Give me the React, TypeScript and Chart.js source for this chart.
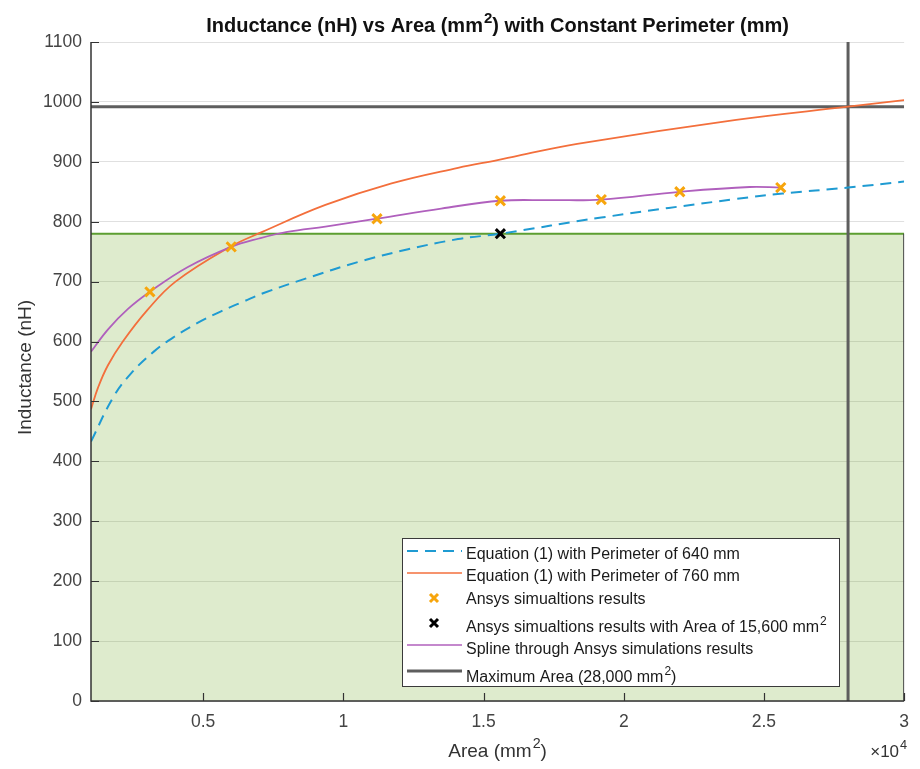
import React, { useEffect, useRef } from 'react';
import { Chart, registerables } from 'chart.js';

Chart.register(...registerables);

// ---------------- data ----------------
const xMin = 1000;
const xMax = 30000;
const yMin = 0;
const yMax = 1100;
const yStep = 100;
const xTickValues = [5000, 10000, 15000, 20000, 25000, 30000];
const xTickLabels = ['0.5', '1', '1.5', '2', '2.5', '3'];

const eq640Area = [1000, 1780, 2430, 3260, 3970, 4800, 5620, 6450, 7160, 8650, 10540, 12310, 14090, 15600, 19200, 24010, 25670, 28000, 30000];
const eq640L = [433, 506, 547, 584, 608, 631, 650, 667, 681, 705, 733, 754, 771, 780, 807, 838, 847, 857, 867];

const eq760Area = [1000, 1250, 1600, 2135, 3000, 4015, 5960, 7110, 9360, 11720, 14090, 15500, 16210, 18340, 24010, 28000, 30000];
const eq760L = [487, 523, 560, 600, 652, 700, 758, 783, 828, 864, 890, 903, 910, 930, 970, 992, 1003];

const splineArea = [1000, 1600, 2310, 3100, 4440, 6000, 6990, 8000, 9360, 11200, 13490, 15600, 17400, 19200, 22000, 24490, 25600];
const splineL = [583, 620, 654, 683, 724, 758, 772, 783, 792, 805, 822, 835, 836, 837, 850, 858, 857];

const ansysArea = [3100, 6000, 11200, 15600, 19200, 22000, 25600];
const ansysL = [683, 758, 805, 835, 837, 850, 857];

const chosenArea = [15600];
const chosenL = [780];

const maxArea = 28000;
const maxAreaL = 992;
const targetL = 780;

const titleText = 'Inductance (nH) vs Area (mm^2) with Constant Perimeter (mm)';
const xTitleText = 'Area (mm^2)';
const yTitleText = 'Inductance (nH)';
const xExponentText = '\u00d710^4';
const legendLabels = [
  'Equation (1) with Perimeter of 640 mm',
  'Equation (1) with Perimeter of 760 mm',
  'Ansys simualtions results',
  'Ansys simualtions results with Area of 15,600 mm^2',
  'Spline through Ansys simulations results',
  'Maximum Area (28,000 mm^2)',
];

// ---------------- styles ----------------
const FONT = '"Liberation Sans", Arial, Helvetica, sans-serif';
const C_BLUE = '#1f9bd2';
const C_ORANGE = '#f36f3c';
const C_PURPLE = '#b060bd';
const C_MARK = '#f7a50c';
const C_GRAY = '#5e5e5e';
const C_GREEN = '#5c9e31';
const C_FILL = 'rgba(119,172,48,0.24)';

const zip = (xs: number[], ys: number[]) => xs.map((x, i) => ({ x, y: ys[i] }));

type Part = { t: string; sup: boolean };
function parseRich(s: string): Part[] {
  const parts: Part[] = [];
  let buf = '';
  for (let i = 0; i < s.length; i++) {
    if (s[i] === '^' && i + 1 < s.length) {
      if (buf) parts.push({ t: buf, sup: false });
      buf = '';
      parts.push({ t: s[i + 1], sup: true });
      i++;
    } else buf += s[i];
  }
  if (buf) parts.push({ t: buf, sup: false });
  return parts;
}

function richWidth(ctx: CanvasRenderingContext2D, parts: Part[], size: number, weight: string) {
  let w = 0;
  for (const p of parts) {
    ctx.font = `${weight} ${p.sup ? size * 0.75 : size}px ${FONT}`;
    w += ctx.measureText(p.t).width + (p.sup ? 1 : 0);
  }
  return w;
}

function drawRich(
  ctx: CanvasRenderingContext2D,
  s: string,
  x: number,
  baseline: number,
  size: number,
  weight: string,
  color: string,
  align: 'left' | 'center' | 'right'
) {
  const parts = parseRich(s);
  const w = richWidth(ctx, parts, size, weight);
  let cx = align === 'left' ? x : align === 'center' ? x - w / 2 : x - w;
  ctx.fillStyle = color;
  ctx.textAlign = 'left';
  ctx.textBaseline = 'alphabetic';
  for (const p of parts) {
    const sz = p.sup ? size * 0.75 : size;
    ctx.font = `${weight} ${sz}px ${FONT}`;
    const dx = p.sup ? 1 : 0;
    ctx.fillText(p.t, cx + dx, p.sup ? baseline - size * 0.45 : baseline);
    cx += ctx.measureText(p.t).width + dx;
  }
}

function drawCross(ctx: CanvasRenderingContext2D, x: number, y: number, r: number, color: string) {
  ctx.save();
  ctx.strokeStyle = color;
  ctx.lineWidth = 3;
  ctx.lineCap = 'butt';
  ctx.beginPath();
  ctx.moveTo(x - r, y - r);
  ctx.lineTo(x + r, y + r);
  ctx.moveTo(x + r, y - r);
  ctx.lineTo(x - r, y + r);
  ctx.stroke();
  ctx.restore();
}

const decorPlugin = {
  id: 'decor',
  afterDraw(chart: any) {
    const { ctx, chartArea, scales } = chart;
    const { left, right, top, bottom } = chartArea;
    const xs = scales.x;
    const ys = scales.y;
    ctx.save();

    // patch right edge
    const gy = ys.getPixelForValue(targetL);
    ctx.strokeStyle = '#4a4a4a';
    ctx.lineWidth = 1;
    ctx.beginPath();
    ctx.moveTo(right - 0.5, gy);
    ctx.lineTo(right - 0.5, bottom);
    ctx.stroke();

    // axes
    ctx.strokeStyle = '#333333';
    ctx.lineWidth = 1.5;
    ctx.beginPath();
    ctx.moveTo(left, top);
    ctx.lineTo(left, bottom);
    ctx.lineTo(right, bottom);
    ctx.stroke();

    // inward ticks
    ctx.lineWidth = 1.2;
    ctx.beginPath();
    for (let v = yMin; v <= yMax; v += yStep) {
      const py = Math.round(ys.getPixelForValue(v)) + 0.5;
      ctx.moveTo(left, py);
      ctx.lineTo(left + 8, py);
    }
    for (const v of xTickValues) {
      const px = Math.round(xs.getPixelForValue(v)) + 0.5;
      ctx.moveTo(px, bottom);
      ctx.lineTo(px, bottom - 8);
    }
    ctx.stroke();

    // titles
    const midX = (left + right) / 2;
    drawRich(ctx, titleText, midX, 32, 20, 'bold', '#111111', 'center');
    drawRich(ctx, xTitleText, midX, 757, 19, 'normal', '#333333', 'center');
    drawRich(ctx, xExponentText, right + 3, 757, 17, 'normal', '#333333', 'right');

    ctx.save();
    ctx.translate(31, (top + bottom) / 2 - 4);
    ctx.rotate(-Math.PI / 2);
    drawRich(ctx, yTitleText, 0, 0, 19, 'normal', '#333333', 'center');
    ctx.restore();

    // legend
    const lx = 402.5, ly = 538.5, lw = 437, lh = 148;
    ctx.fillStyle = '#ffffff';
    ctx.fillRect(lx, ly, lw, lh);
    ctx.strokeStyle = '#3a3a3a';
    ctx.lineWidth = 1;
    ctx.strokeRect(lx, ly, lw, lh);

    const baselines = [559, 581, 604, 632, 654, 682];
    const symY = [551, 573, 598, 623, 645, 671];
    const x0 = 407, x1 = 462, xm = 434, tx = 466;

    ctx.strokeStyle = C_BLUE;
    ctx.lineWidth = 2;
    ctx.setLineDash([11, 7]);
    ctx.beginPath();
    ctx.moveTo(x0, symY[0]);
    ctx.lineTo(x1, symY[0]);
    ctx.stroke();
    ctx.setLineDash([]);
    ctx.strokeStyle = C_ORANGE;
    ctx.lineWidth = 1.5;
    ctx.beginPath();
    ctx.moveTo(x0, symY[1]);
    ctx.lineTo(x1, symY[1]);
    ctx.stroke();
    drawCross(ctx, xm, symY[2], 4, C_MARK);
    drawCross(ctx, xm, symY[3], 4, '#000000');
    ctx.strokeStyle = C_PURPLE;
    ctx.lineWidth = 1.5;
    ctx.beginPath();
    ctx.moveTo(x0, symY[4]);
    ctx.lineTo(x1, symY[4]);
    ctx.stroke();
    ctx.strokeStyle = C_GRAY;
    ctx.lineWidth = 3;
    ctx.beginPath();
    ctx.moveTo(x0, symY[5]);
    ctx.lineTo(x1, symY[5]);
    ctx.stroke();

    legendLabels.forEach((lab, i) => {
      drawRich(ctx, lab, tx, baselines[i], 16, 'normal', '#1a1a1a', 'left');
    });

    ctx.restore();
  },
};

export default function App() {
  const ref = useRef<HTMLCanvasElement | null>(null);

  useEffect(() => {
    if (!ref.current) return;
    const chart = new Chart(ref.current, {
      type: 'scatter',
      data: {
        datasets: [
          {
            label: legendLabels[2],
            data: zip(ansysArea, ansysL),
            showLine: false,
            pointStyle: 'crossRot',
            pointRadius: 6.5,
            pointBorderWidth: 3,
            borderColor: C_MARK,
            backgroundColor: C_MARK,
          },
          {
            label: legendLabels[3],
            data: zip(chosenArea, chosenL),
            showLine: false,
            pointStyle: 'crossRot',
            pointRadius: 6.5,
            pointBorderWidth: 3,
            borderColor: '#000000',
            backgroundColor: '#000000',
          },
          {
            label: legendLabels[4],
            data: zip(splineArea, splineL),
            showLine: true,
            pointRadius: 0,
            borderColor: C_PURPLE,
            borderWidth: 1.8,
            tension: 0.4,
          },
          {
            label: legendLabels[1],
            data: zip(eq760Area, eq760L),
            showLine: true,
            pointRadius: 0,
            borderColor: C_ORANGE,
            borderWidth: 1.8,
            tension: 0.4,
          },
          {
            label: legendLabels[0],
            data: zip(eq640Area, eq640L),
            showLine: true,
            pointRadius: 0,
            borderColor: C_BLUE,
            borderWidth: 2,
            borderDash: [11, 7],
            tension: 0.4,
          },
          {
            label: legendLabels[5],
            data: [
              { x: maxArea, y: yMin },
              { x: maxArea, y: yMax },
            ],
            showLine: true,
            pointRadius: 0,
            borderColor: C_GRAY,
            borderWidth: 3,
          },
          {
            label: 'max inductance',
            data: [
              { x: xMin, y: maxAreaL },
              { x: xMax, y: maxAreaL },
            ],
            showLine: true,
            pointRadius: 0,
            borderColor: C_GRAY,
            borderWidth: 3,
          },
          {
            label: 'target region',
            data: [
              { x: xMin, y: targetL },
              { x: xMax, y: targetL },
            ],
            showLine: true,
            pointRadius: 0,
            borderColor: C_GREEN,
            borderWidth: 2,
            backgroundColor: C_FILL,
            fill: 'origin',
          },
        ],
      },
      options: {
        responsive: false,
        animation: false,
        devicePixelRatio: 1,
        layout: { padding: { left: 0, right: 12, top: 42, bottom: 0 } },
        plugins: {
          legend: { display: false },
          title: { display: false },
          tooltip: { enabled: false },
        },
        scales: {
          x: {
            type: 'linear',
            min: xMin,
            max: xMax,
            afterBuildTicks: (scale: any) => {
              scale.ticks = xTickValues.map((v) => ({ value: v }));
            },
            afterFit: (scale: any) => {
              scale.height = 68;
            },
            ticks: {
              padding: 11,
              maxRotation: 0,
              autoSkip: false,
              color: '#444444',
              font: { family: FONT, size: 17.5 },
              callback: (v: any) => {
                const i = xTickValues.indexOf(Number(v));
                return i >= 0 ? xTickLabels[i] : '';
              },
            },
            grid: { display: false, drawTicks: false },
            border: { display: false },
          },
          y: {
            type: 'linear',
            min: yMin,
            max: yMax,
            afterFit: (scale: any) => {
              scale.width = 91;
            },
            ticks: {
              stepSize: yStep,
              padding: 9,
              color: '#444444',
              font: { family: FONT, size: 17.5 },
              callback: (v: any) => String(v),
            },
            grid: { color: 'rgba(38,38,38,0.14)', lineWidth: 1, drawTicks: false },
            border: { display: false },
          },
        },
      },
      plugins: [decorPlugin],
    } as any);
    return () => chart.destroy();
  }, []);

  return (
    <div style={{ position: 'absolute', left: 0, top: 0, width: 920, height: 769, background: '#ffffff' }}>
      <canvas ref={ref} width={920} height={769} style={{ width: 920, height: 769, display: 'block' }} />
    </div>
  );
}
